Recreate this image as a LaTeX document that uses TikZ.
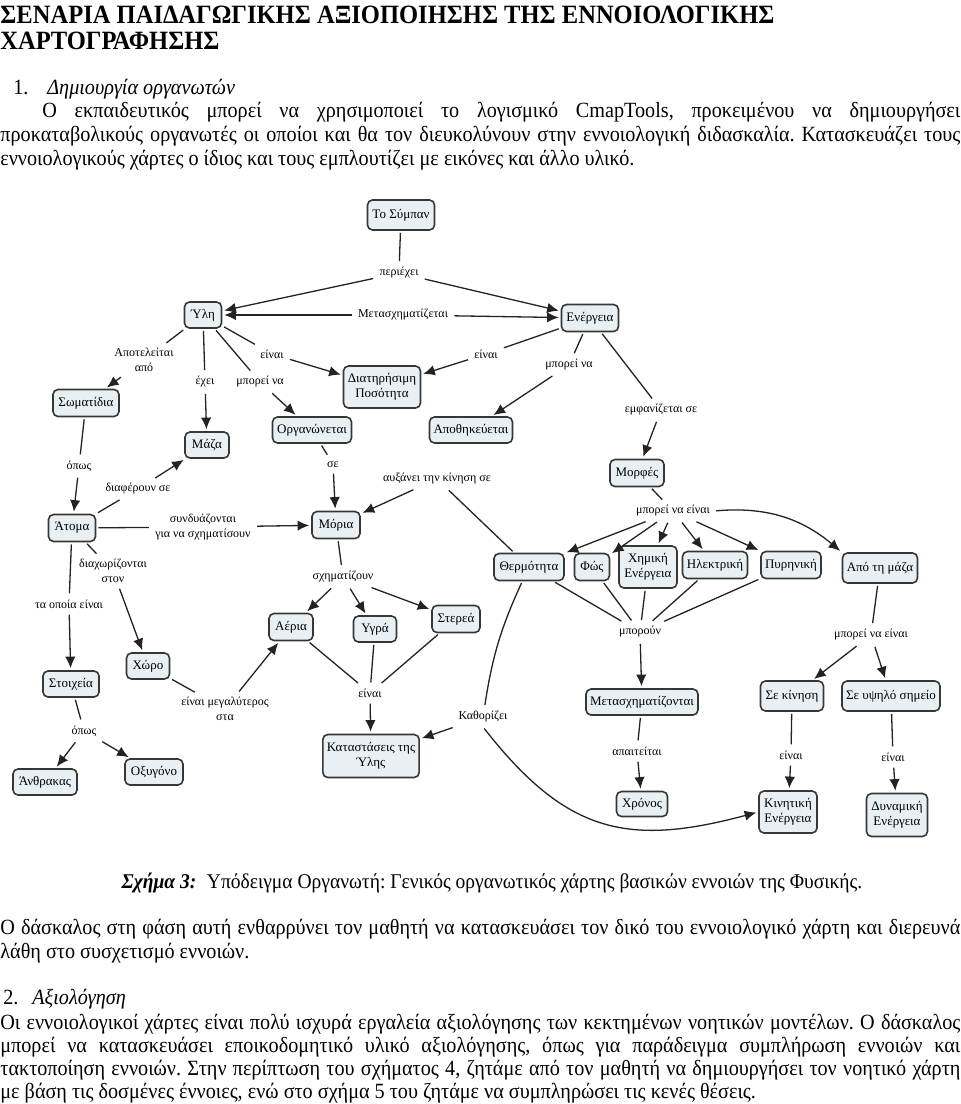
\documentclass[tikz,border=0pt]{standalone}
\usepackage{fontspec}
\setmainfont{Liberation Serif}[FakeStretch=0.93]
\newfontfamily\mapfont{Liberation Serif}
\usetikzlibrary{arrows.meta}
\definecolor{mapfill}{RGB}{232,240,244}
\definecolor{mapedge}{RGB}{55,55,55}
\definecolor{mapline}{RGB}{35,35,35}
\frenchspacing

\begin{document}
\begin{tikzpicture}[x=0.5pt, y=-0.5pt,
    concept/.style={draw=mapedge, fill=mapfill, rounded corners=2.5pt, line width=0.8pt,
        inner xsep=2pt, inner ysep=2pt, align=center,
        font=\mapfont\fontsize{6.5}{7.6}\selectfont},
    link/.style={inner sep=2pt, align=center, font=\mapfont\fontsize{6}{7.2}\selectfont},
    line/.style={draw=mapline, line width=0.65pt, shorten <=1pt, shorten >=1pt},
    arr/.style={line, -{Latex[length=5.8pt, width=5.2pt]}},
    textline/.style={anchor=base west, inner sep=0pt, font=\fontsize{10.85}{12}\selectfont}]
    \useasboundingbox (0,0) rectangle (960,1104);

    % text above the map
    \node[textline, font=\fontsize{13.2}{15}\bfseries] (title1) at (0,23) {ΣΕΝΑΡΙΑ ΠΑΙΔΑΓΩΓΙΚΗΣ ΑΞΙΟΠΟΙΗΣΗΣ ΤΗΣ ΕΝΝΟΙΟΛΟΓΙΚΗΣ};
    \node[textline, font=\fontsize{13.2}{15}\bfseries] (title2) at (0,49) {ΧΑΡΤΟΓΡΑΦΗΣΗΣ};
    \node[textline] (sec1) at (13,94) {1.};
    \node[textline] (sec1t) at (47,94) {\textit{Δημιουργία οργανωτών}};
    \node[textline] (p1a) at (42,117) {\makebox[459pt][s]{Ο εκπαιδευτικός μπορεί να χρησιμοποιεί το λογισμικό CmapTools, προκειμένου να δημιουργήσει}};
    \node[textline] (p1b) at (0,141) {\makebox[480pt][s]{προκαταβολικούς οργανωτές οι οποίοι και θα τον διευκολύνουν στην εννοιολογική διδασκαλία. Κατασκευάζει τους}};
    \node[textline] (p1c) at (0,165) {εννοιολογικούς χάρτες ο ίδιος και τους εμπλουτίζει με εικόνες και άλλο υλικό.};

    % concepts: name/x/y/width/height/text
    \foreach \n/\x/\y/\w/\h/\t in {
        sympan/401/215/33.5/15/{Το Σύμπαν}, yli/203/315/18.5/13/{Ύλη},
        energeia/590/318/28.5/13.5/{Ενέργεια}, somatidia/86/403/33/13.5/{Σωματίδια},
        diatirisimi/382/387/38.5/21/{Διατηρήσιμη\\Ποσότητα}, organonetai/312/430/39.5/13/{Οργανώνεται},
        apothikevetai/471/430/41.5/13/{Αποθηκεύεται}, maza/207/445/22/13/{Μάζα},
        morfes/637/473/27/13.5/{Μορφές}, atoma/72/528/23.5/13.5/{Άτομα},
        moria/336/525/24/13.5/{Μόρια}, thermotita/529/567/35/13.5/{Θερμότητα},
        fos/592/567/17.5/13.5/{Φώς}, ximiki/648/567/29/21/{Χημική\\Ενέργεια},
        ilektriki/715/565/32.5/13.5/{Ηλεκτρική}, pyriniki/791/565/30/13.5/{Πυρηνική},
        apomaza/880/568/37.5/15/{Από τη μάζα}, aeria/291/627/22/13.5/{Αέρια},
        ygra/375/629/21.5/13/{Υγρά}, sterea/456/619/24/13.5/{Στερεά},
        xoro/148/666/21.5/13/{Χώρο}, stoixeia/71/684/28/13/{Στοιχεία},
        anthrakas/45/782/32/13/{Άνθρακας}, oxygono/154/772/29/13/{Οξυγόνο},
        katastaseis/371/756/48/21.5/{Καταστάσεις της\\Ύλης}, metasx/642/702/55/13/{Μετασχηματίζονται},
        xronos/642/804/25.5/12.5/{Χρόνος}, sekinisi/792/696/31.5/15/{Σε κίνηση},
        seypsilo/891/696/48.5/15/{Σε υψηλό σημείο}, kinitiki/788/812/29/21/{Κινητική\\Ενέργεια},
        dynamiki/897/815/30.5/21.5/{Δυναμική\\Ενέργεια}}
        \node[concept, minimum width=\w pt, minimum height=\h pt] (\n) at (\x,\y) {\t};

    % linking phrases
    \foreach \n/\x/\y/\t in {
        lPeriexei/399/273/{περιέχει}, lMetasx/403/315/{Μετασχηματίζεται},
        lApoteleitai/144/360/{Αποτελείται\\από}, lEinaiA/272/354/{είναι},
        lExei/205/382/{έχει}, lMporeiA/260/382/{μπορεί να},
        lEinaiB/486/354/{είναι}, lMporeiB/569/365/{μπορεί να},
        lEmfan/661/410/{εμφανίζεται σε}, lSe/333/464/{σε},
        lAfxanei/437/479/{αυξάνει την κίνηση σε}, lOpos/79/466/{όπως},
        lDiaferoun/138/489/{διαφέρουν σε}, lSyndyaz/203/527/{συνδυάζονται\\για να σχηματίσουν},
        lMneA/673/511/{μπορεί να είναι}, lDiaxor/113/571/{διαχωρίζονται\\στον},
        lTaOpoia/69/604/{τα οποία είναι}, lSximat/343/577/{σχηματίζουν},
        lMporoun/640/632/{μπορούν}, lMneB/871/635/{μπορεί να είναι},
        lMegaly/225/709/{είναι μεγαλύτερος\\στα}, lEinaiC/370/693/{είναι},
        lKathor/483/717/{Καθορίζει}, lOposB/84/731/{όπως},
        lApaiteitai/637/751/{απαιτείται}, lEinaiD/791/755/{είναι},
        lEinaiE/893/757/{είναι}}
        \node[link] (\n) at (\x,\y) {\t};

    % concept to phrase
    \foreach \a/\b in {sympan/lPeriexei, yli/lApoteleitai, yli/lExei, yli/lMporeiA, yli/lEinaiA,
        energeia/lEinaiB, energeia/lMporeiB, energeia/lEmfan, somatidia/lOpos, organonetai/lSe,
        atoma/lDiaferoun, atoma/lSyndyaz, atoma/lDiaxor, atoma/lTaOpoia, thermotita/lAfxanei,
        morfes/lMneA, moria/lSximat, thermotita/lMporoun, fos/lMporoun, ximiki/lMporoun,
        ilektriki/lMporoun, pyriniki/lMporoun, apomaza/lMneB, xoro/lMegaly, aeria/lEinaiC,
        ygra/lEinaiC, sterea/lEinaiC, stoixeia/lOposB, metasx/lApaiteitai, sekinisi/lEinaiD,
        seypsilo/lEinaiE}
        \draw[line] (\a) -- (\b);
    \draw[line] (thermotita) to[bend right=8] (lKathor);

    % phrase to concept
    \foreach \a/\b in {lPeriexei/yli, lPeriexei/energeia, lMetasx/yli, lMetasx/energeia,
        lApoteleitai/somatidia, lExei/maza, lMporeiA/organonetai, lEinaiA/diatirisimi,
        lEinaiB/diatirisimi, lMporeiB/apothikevetai, lEmfan/morfes, lOpos/atoma, lSe/moria,
        lDiaferoun/maza, lSyndyaz/moria, lDiaxor/xoro, lTaOpoia/stoixeia, lAfxanei/moria,
        lMneA/thermotita, lMneA/fos, lMneA/ximiki, lMneA/ilektriki, lMneA/pyriniki,
        lSximat/aeria, lSximat/ygra, lSximat/sterea, lMporoun/metasx, lMneB/sekinisi,
        lMneB/seypsilo, lMegaly/aeria, lEinaiC/katastaseis, lKathor/katastaseis,
        lOposB/anthrakas, lOposB/oxygono, lApaiteitai/xronos, lEinaiD/kinitiki, lEinaiE/dynamiki}
        \draw[arr] (\a) -- (\b);
    \draw[arr] (lMneA.east) to[out=5, in=140] (apomaza.north west);
    \draw[arr] (lKathor.south) to[out=-52, in=195, looseness=1.2] (kinitiki.west);

    % text below the map
    \node[textline, anchor=base, font=\fontsize{10.5}{12}\selectfont] (caption) at (492,888) {\textbf{\textit{Σχήμα 3:}}\enspace Υπόδειγμα Οργανωτή: Γενικός οργανωτικός χάρτης βασικών εννοιών της Φυσικής.};
    \node[textline] (p2a) at (0,934) {\makebox[480pt][s]{Ο δάσκαλος στη φάση αυτή ενθαρρύνει τον μαθητή να κατασκευάσει τον δικό του εννοιολογικό χάρτη και διερευνά}};
    \node[textline] (p2b) at (0,958) {λάθη στο συσχετισμό εννοιών.};
    \node[textline] (sec2) at (3,1004) {2.};
    \node[textline] (sec2t) at (32,1004) {\textit{Αξιολόγηση}};
    \node[textline] (p3a) at (0,1029) {\makebox[480pt][s]{Οι εννοιολογικοί χάρτες είναι πολύ ισχυρά εργαλεία αξιολόγησης των κεκτημένων νοητικών μοντέλων. Ο δάσκαλος}};
    \node[textline] (p3b) at (0,1052) {\makebox[480pt][s]{μπορεί να κατασκευάσει εποικοδομητικό υλικό αξιολόγησης, όπως για παράδειγμα συμπλήρωση εννοιών και}};
    \node[textline] (p3c) at (0,1075) {\makebox[480pt][s]{τακτοποίηση εννοιών. Στην περίπτωση του σχήματος 4, ζητάμε από τον μαθητή να δημιουργήσει τον νοητικό χάρτη}};
    \node[textline] (p3d) at (0,1098) {με βάση τις δοσμένες έννοιες, ενώ στο σχήμα 5 του ζητάμε να συμπληρώσει τις κενές θέσεις.};
\end{tikzpicture}
\end{document}
